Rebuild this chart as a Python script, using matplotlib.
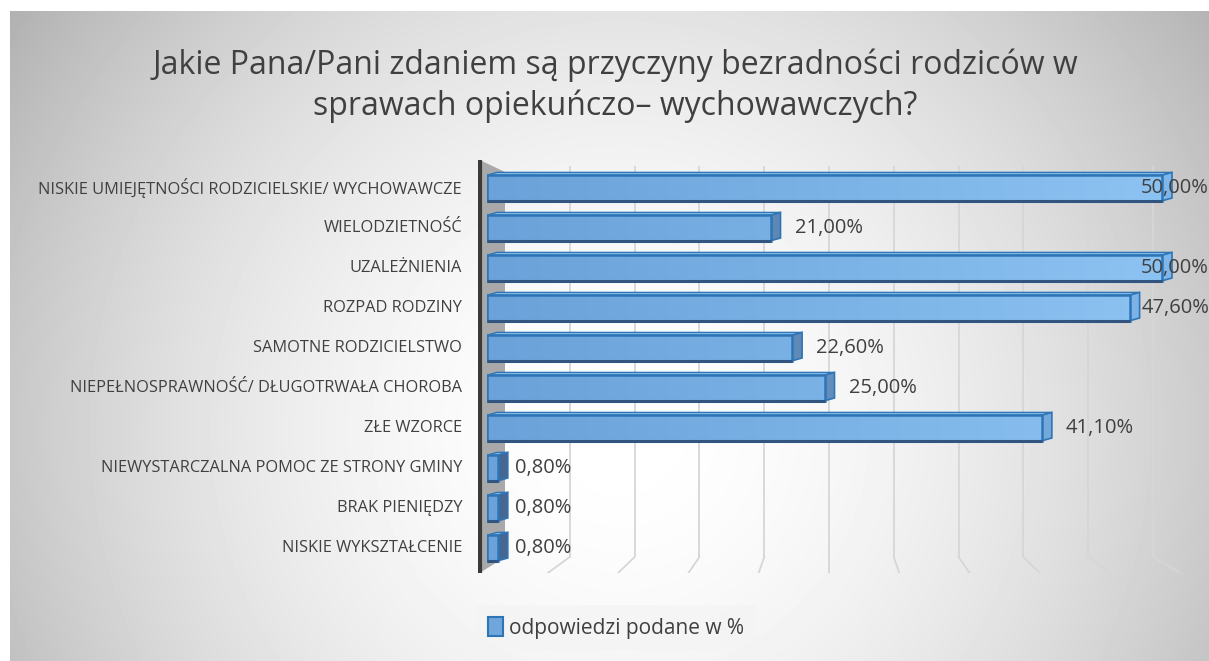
import numpy as np
import matplotlib.pyplot as plt
from matplotlib.patches import Rectangle, Polygon, Patch
from matplotlib.colors import LinearSegmentedColormap, to_rgb

plt.rcParams['font.family'] = ['Open Sans', 'DejaVu Sans']

categories = [
    'NISKIE UMIEJĘTNOŚCI RODZICIELSKIE/ WYCHOWAWCZE',
    'WIELODZIETNOŚĆ',
    'UZALEŻNIENIA',
    'ROZPAD RODZINY',
    'SAMOTNE RODZICIELSTWO',
    'NIEPEŁNOSPRAWNOŚĆ/ DŁUGOTRWAŁA CHOROBA',
    'ZŁE WZORCE',
    'NIEWYSTARCZALNA POMOC ZE STRONY GMINY',
    'BRAK PIENIĘDZY',
    'NISKIE WYKSZTAŁCENIE',
]
values = [50.0, 21.0, 50.0, 47.6, 22.6, 25.0, 41.1, 0.8, 0.8, 0.8]
grid_ticks = [5, 10, 15, 20, 25, 30, 35, 40, 45, 50]
series_name = 'odpowiedzi podane w %'
title = 'Jakie Pana/Pani zdaniem są przyczyny bezradności rodziców w\nsprawach opiekuńczo– wychowawczych?'

W, H = 1209, 661
TXT = '#404040'
EDGE = '#2e75b6'

fig = plt.figure(figsize=(W / 100, H / 100), dpi=100)


def box(x0, y0, x1, y1):
    # pixel box (from top-left) -> figure fraction
    return [x0 / W, 1 - y1 / H, (x1 - x0) / W, (y1 - y0) / H]


# background: radial grey gradient, white margin top/left
bg = fig.add_axes([0, 0, 1, 1], zorder=0)
yy, xx = np.mgrid[0:H, 0:W]
r = np.hypot(xx - 620, yy - 430)
shade = 1 - 0.21 * (r / 600) ** 1.8
shade[(xx < 10) | (yy < 11)] = 1.0
bg.imshow(shade, cmap='gray', vmin=0, vmax=1, extent=(0, W, H, 0), aspect='auto')
bg.set_xlim(0, W)
bg.set_ylim(H, 0)
bg.axis('off')

fig.text(615 / W, 1 - 86 / H, title, ha='center', va='center', fontsize=23,
         color=TXT, linespacing=1.3)

# back wall / floor (3d look), own scale: 12.96 px per %
wall = fig.add_axes(box(478, 160, W, 573), zorder=1)
wscale = 12.96
wall.set_xlim(-27 / wscale, (W - 505) / wscale)
wall.set_ylim(413, 0)
wall.axis('off')
floor_y = 397
for g in grid_ticks:
    wall.plot([g, g], [6, floor_y], color='#d6d6d6', lw=1.3, solid_capstyle='butt')
    wall.plot([g, 25 + (g - 25) * 1.085], [floor_y, 413], color='#d6d6d6', lw=1.3)
x_wall = -1.95
wall.add_patch(Polygon([[x_wall, 0], [0, 12], [0, floor_y], [x_wall, 413]],
                       closed=True, facecolor='#a9a9a9', edgecolor='none'))
wall.plot([x_wall, x_wall], [0, 413], color='#3a3a3a', lw=3, solid_capstyle='butt')

# bars, 13.5 px per %
ax = fig.add_axes(box(487, 160, W, 573), zorder=2)
scale = 13.5
xmax = (W - 487) / scale
ylim = (9 + (573 - 548) / 40, -(188 - 160) / 40)
ax.patch.set_visible(False)
for s in ax.spines.values():
    s.set_visible(False)
ax.set_xticks([])

h = 0.64
dx = 10 / scale
dy = -0.07
grad_cmap = LinearSegmentedColormap.from_list('bar', ['#6aa2d9', '#8ec5f4'])
grad = np.linspace(0, 1, 256).reshape(1, -1)
dark = np.array(to_rgb('#45668f'))
light = np.array(to_rgb('#7fb6ea'))

rows = np.arange(len(values))
for c, v in zip(rows, values):
    top = c - h / 2
    bot = c + h / 2
    ax.add_patch(Polygon([[0, top], [v, top], [v + dx, top + dy], [dx, top + dy]],
                         closed=True, facecolor='#8dbfec', edgecolor=EDGE, lw=1))
    t = min(v / 50, 1)
    ax.add_patch(Polygon([[v, top], [v + dx, top + dy], [v + dx, bot + dy], [v, bot]],
                         closed=True, facecolor=dark * (1 - t) + light * t,
                         edgecolor=EDGE, lw=1.2))
    rect = Rectangle((0, top), v, h, facecolor='none', edgecolor=EDGE, lw=1.8, zorder=3)
    ax.add_patch(rect)
    im = ax.imshow(grad, cmap=grad_cmap, extent=(0, xmax, bot, top), aspect='auto',
                   zorder=2)
    im.set_clip_path(rect)
    ax.plot([0, v], [bot, bot], color='#2f5580', lw=2.2, zorder=4,
            solid_capstyle='butt')

ax.set_xlim(0, xmax)
ax.set_ylim(*ylim)
ax.set_yticks(rows - 0.05)
ax.set_yticklabels(categories, fontsize=11.8, color=TXT)
ax.tick_params(axis='y', length=0, pad=18)

labels = []
for c, v in zip(rows, values):
    gap = 0.5 + 0.55 * min(v / 20, 1)
    lab = ax.text(v + dx + gap, c, f'{v:.2f}%'.replace('.', ','),
                  ha='left', va='center', fontsize=14.5, color=TXT, zorder=5)
    labels.append(lab)

fig.canvas.draw()
rend = fig.canvas.get_renderer()
for lab in labels:
    bb = lab.get_window_extent(rend)
    if bb.x1 > W:
        lab.set_ha('right')
        lab.set_x(xmax)

leg = fig.legend(handles=[Patch(facecolor='#6fa6dc', edgecolor=EDGE, lw=1.5, label=series_name)],
                 loc='center', bbox_to_anchor=(616 / W, 1 - 628 / H), fontsize=15,
                 frameon=True, fancybox=False, handlelength=0.7, handleheight=1.0,
                 handletextpad=0.3, borderpad=0.6, borderaxespad=0)
leg.get_frame().set_facecolor('#f4f4f4')
leg.get_frame().set_alpha(0.7)
leg.get_frame().set_edgecolor('none')
for t in leg.get_texts():
    t.set_color(TXT)

fig.savefig('out.png', dpi=100)
